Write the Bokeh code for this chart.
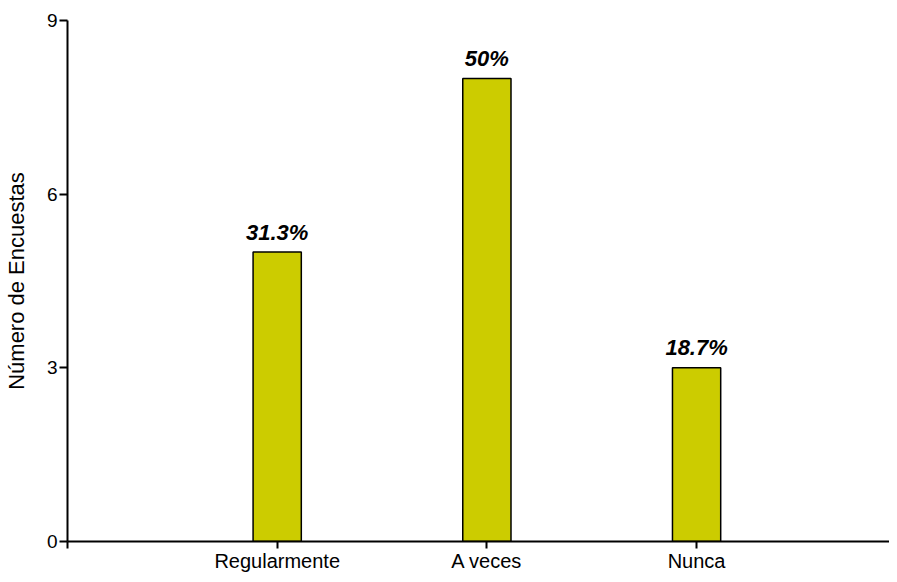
from bokeh.plotting import figure
from bokeh.models import ColumnDataSource, FixedTicker, Range1d
from bokeh.core.properties import value
from bokeh.embed import file_html
from bokeh.resources import INLINE

categories = ["Regularmente", "A veces", "Nunca"]
counts = [5, 8, 3]
percent_labels = ["31.3%", "50%", "18.7%"]
y_ticks = [0, 3, 6, 9]

positions = list(range(1, len(categories) + 1))
source = ColumnDataSource(dict(x=positions, top=counts, label=percent_labels))

FONT = "Liberation Sans"

p = figure(width=889, height=574, output_backend="svg", toolbar_location=None,
           x_range=Range1d(0, 3.92), y_range=Range1d(0, 9),
           min_border_left=64, min_border_right=0, min_border_top=20, min_border_bottom=31)
p.outline_line_color = None
p.xgrid.visible = False
p.ygrid.visible = False

p.vbar(x="x", top="top", width=0.23, source=source, fill_color="#CCCC00",
       line_color="black", line_width=1.5)
p.text(x="x", y="top", text="label", source=source, y_offset=-20,
       text_align="center", text_baseline="alphabetic",
       text_font=value(FONT), text_font_style="bold italic", text_font_size="22px",
       text_color="black")

# x axis
p.xaxis.ticker = FixedTicker(ticks=[0] + positions)
overrides = {0: ""}
for pos, cat in zip(positions, categories):
    overrides[pos] = cat
p.xaxis.major_label_overrides = overrides
p.xaxis.major_tick_in = 0
p.xaxis.major_tick_out = 7
p.xaxis.minor_tick_line_color = None
p.xaxis.major_label_text_font = FONT
p.xaxis.major_label_text_font_size = "20px"
p.xaxis.major_label_text_color = "black"
p.xaxis.major_label_standoff = 1
p.xaxis.axis_line_width = 2
p.xaxis.major_tick_line_width = 2

# y axis
p.yaxis.ticker = FixedTicker(ticks=y_ticks)
p.yaxis.major_tick_in = 0
p.yaxis.major_tick_out = 8
p.yaxis.minor_tick_line_color = None
p.yaxis.major_label_text_font = FONT
p.yaxis.major_label_text_font_size = "19px"
p.yaxis.major_label_text_color = "black"
p.yaxis.major_label_standoff = 2
p.yaxis.axis_line_width = 2
p.yaxis.major_tick_line_width = 2
p.yaxis.axis_label = "Número de Encuestas"
p.yaxis.axis_label_text_font = FONT
p.yaxis.axis_label_text_font_size = "22px"
p.yaxis.axis_label_text_font_style = "normal"
p.yaxis.axis_label_text_color = "black"
p.yaxis.axis_label_standoff = 15

open("out.html", "w").write(file_html(p, INLINE))
